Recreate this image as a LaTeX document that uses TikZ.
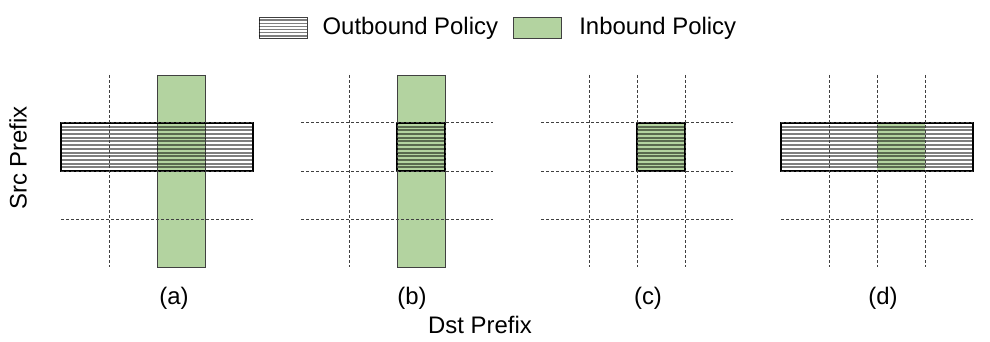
\documentclass[tikz,border=0pt]{standalone}
\usepackage{fontspec}
\setmainfont{Liberation Sans}
\usetikzlibrary{positioning, calc}
\definecolor{inbound}{RGB}{179,211,160}
\tikzset{
  gridline/.style={line width=1pt, black!75, dash pattern=on 3pt off 2pt},
  inbox/.style={fill=inbound, draw=black!75, line width=0.9pt},
  outbox/.style={draw=black, line width=1.1pt},
  hatchline/.style={line width=2pt, black, opacity=0.5},
  lbl/.style={font=\fontsize{23.9}{28}\selectfont, inner sep=0pt}
}
% horizontal hatching: x0, y0, x1, y1, number of lines
\newcommand{\hatchrect}[5]{%
  \foreach \k in {1,...,#5}
    \draw[hatchline] (#1, {#2+(#4-#2)*\k/(#5+1)}) -- (#3, {#2+(#4-#2)*\k/(#5+1)});
}
\begin{document}
\begin{tikzpicture}[x=1pt, y=-1pt]
  \useasboundingbox (0,0) rectangle (990,342);
  % legend
  \node[draw=black!75, line width=0.9pt, minimum width=48pt, minimum height=21pt,
        inner sep=0pt] (outkey) at (283,28) {};
  \foreach \k in {1,...,6}
    \draw[hatchline, line width=1.4pt]
      ($(outkey.north west)!\k/7!(outkey.south west)$) -- ($(outkey.north east)!\k/7!(outkey.south east)$);
  \node[lbl, right=15pt of outkey] (outtext) {Outbound Policy};
  \node[inbox, minimum width=48pt, minimum height=21pt, inner sep=0pt,
        right=15pt of outtext] (inkey) {};
  \node[lbl, right=17pt of inkey] (intext) {Inbound Policy};
  % (a) outbound row, inbound column
  \draw[inbox] (157,75) rectangle (205,267);
  \hatchrect{61}{123}{253}{171}{12}
  \draw[outbox] (61,123) rectangle (253,171);
  % (b) inbound column, outbound cell
  \draw[inbox] (397,75) rectangle (445,267);
  \hatchrect{397}{123}{445}{171}{12}
  \draw[outbox] (397,123) rectangle (445,171);
  % (c) one cell for both
  \draw[inbox] (637,123) rectangle (685,171);
  \hatchrect{637}{123}{685}{171}{12}
  \draw[outbox] (637,123) rectangle (685,171);
  % (d) outbound row, inbound cell
  \fill[inbound] (877,123) rectangle (925,171);
  \hatchrect{781}{123}{973}{171}{12}
  \draw[outbox] (781,123) rectangle (973,171);
  % grids
  \foreach \i in {0,...,3} {
    \pgfmathsetmacro{\ox}{61+240*\i}
    \foreach \d in {48,96,144} {
      \draw[gridline] ({\ox+\d},75) -- ({\ox+\d},267);
      \draw[gridline] (\ox,{75+\d}) -- ({\ox+192},{75+\d});
    }
  }
  % labels
  \node[lbl] (laba) at (174,298) {(a)};
  \node[lbl] (labb) at (412,298) {(b)};
  \node[lbl] (labc) at (648,298) {(c)};
  \node[lbl] (labd) at (883,298) {(d)};
  \node[lbl] (dst) at (480,325) {Dst Prefix};
  \node[lbl, rotate=90] (src) at (18,158) {Src Prefix};
\end{tikzpicture}
\end{document}
